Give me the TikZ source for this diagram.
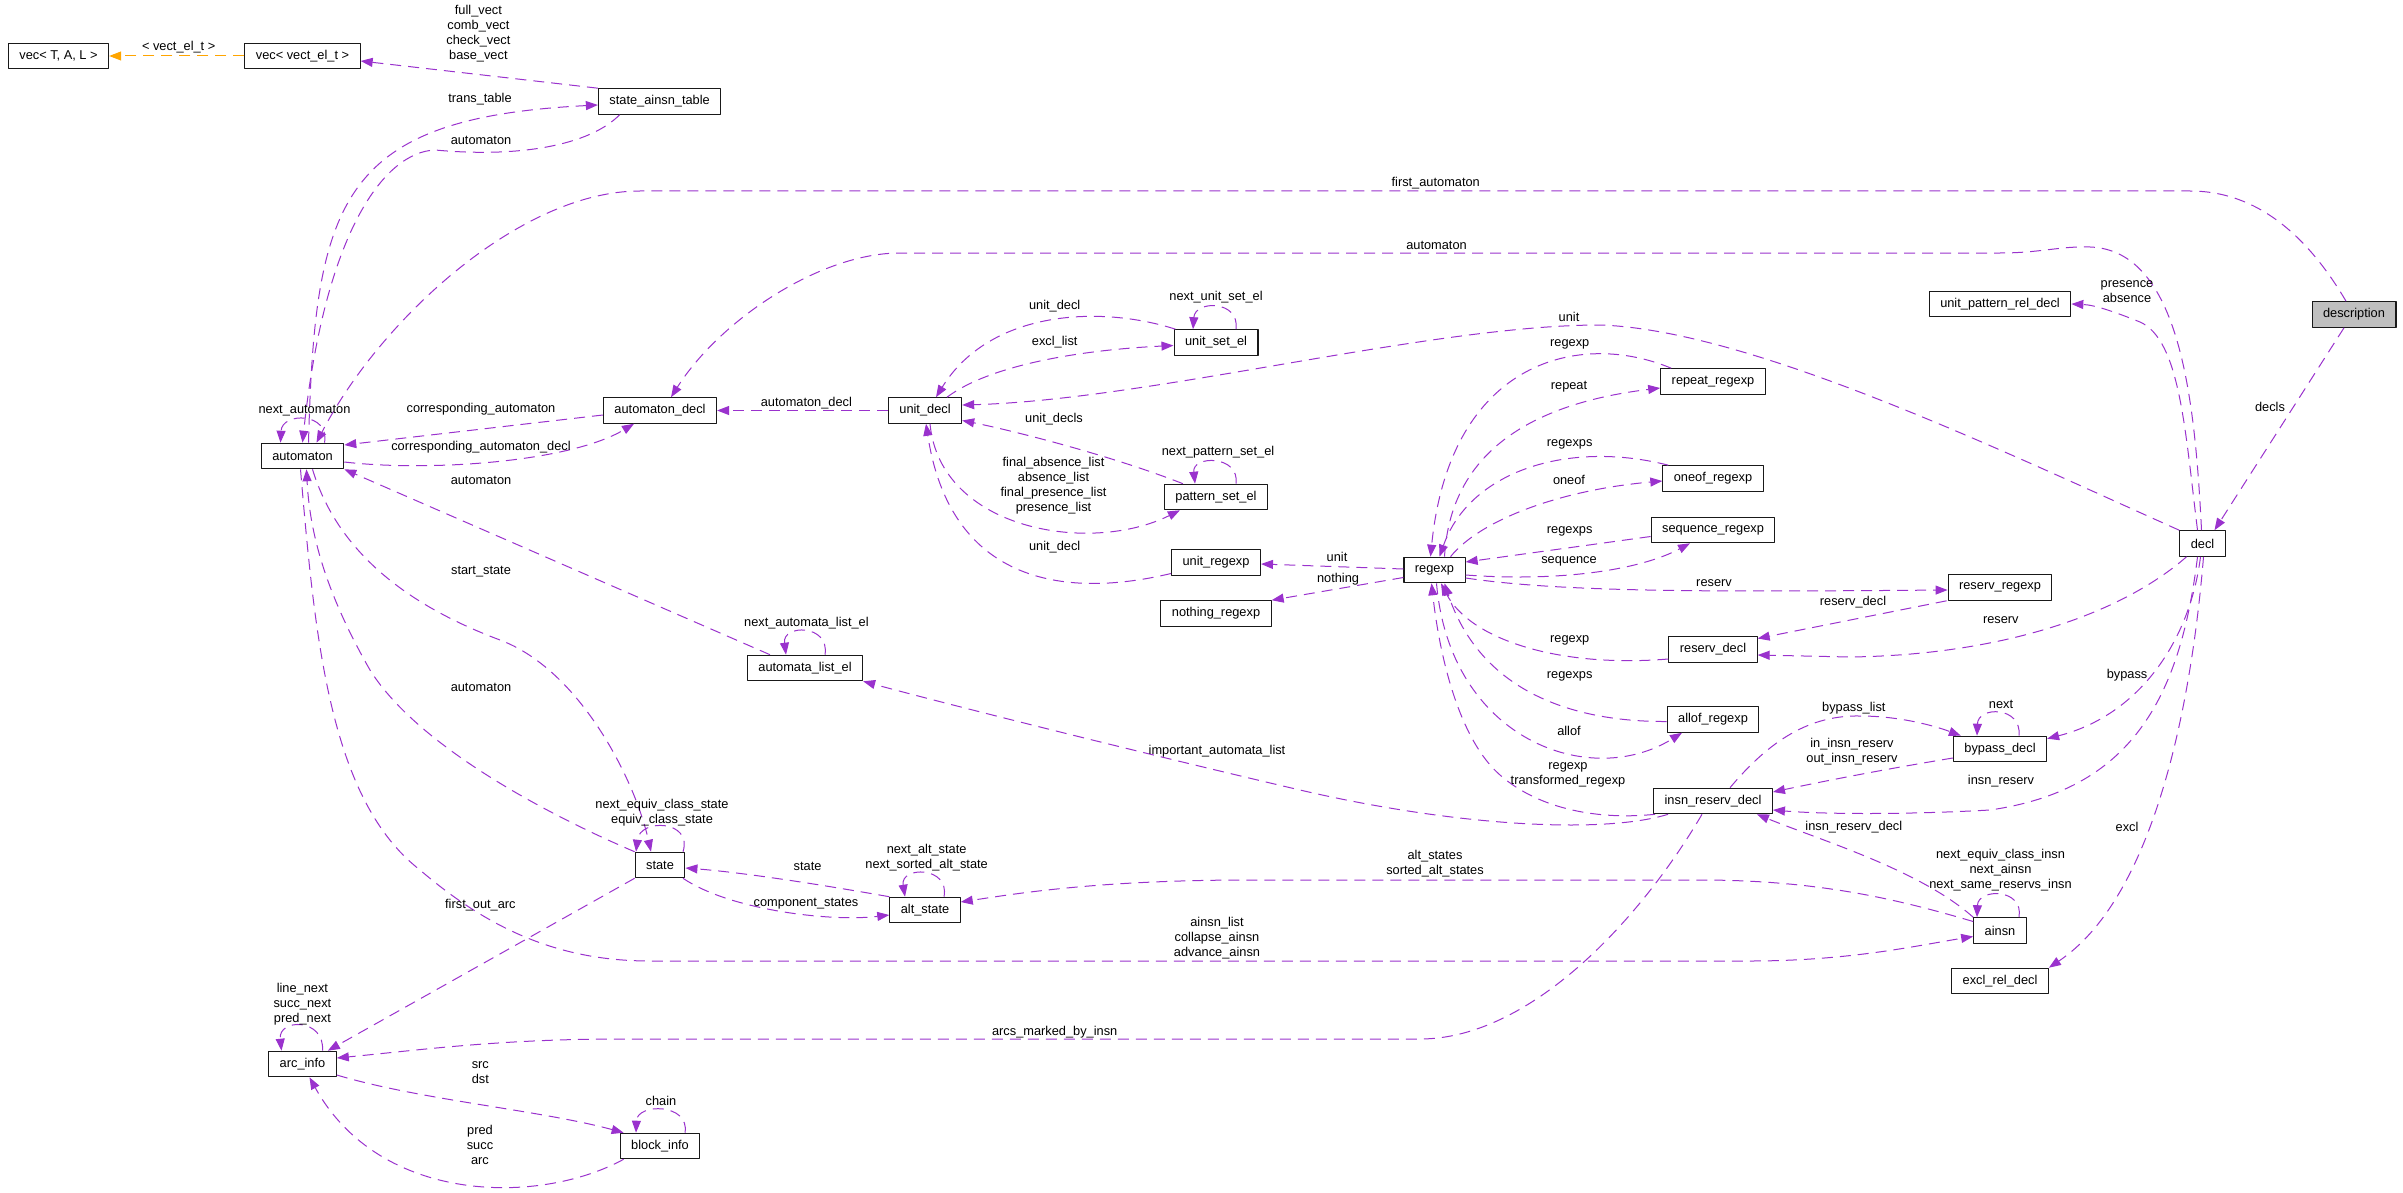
\documentclass[tikz,border=0pt]{standalone}
\usepackage{fontspec}
\setmainfont{Liberation Sans}
\usetikzlibrary{arrows.meta}
\definecolor{edgepurple}{HTML}{9A32CD}
\definecolor{tmplorange}{HTML}{FFA500}
\definecolor{rootgray}{HTML}{BFBFBF}
\tikzset{
    cls/.style={
        draw=black!90, line width=1.1pt, fill=white,
        inner xsep=11pt, inner ysep=0pt, minimum height=25.5pt,
        font=\fontsize{12.8}{15}\selectfont
    },
    lab/.style={
        font=\fontsize{12.8}{15}\selectfont, align=center, inner sep=0pt
    },
    uses/.style={
        draw=edgepurple, line width=1pt, dash pattern=on 11pt off 7pt,
        -{Triangle[length=12pt,width=9pt]}
    },
    tmpl/.style={uses, draw=tmplorange}
}

\begin{document}
\begin{tikzpicture}[x=1pt,y=-1pt,line join=round]
\useasboundingbox (0,0) rectangle (2403,1193);

% classes, one column per rank
\node[cls] (vectal) at (58.5,56) {vec< T, A, L >};
\node[cls] (vecvect) at (302.5,56) {vec< vect\_el\_t >};
\node[cls] (automaton) at (302.5,456) {automaton};
\node[cls] (arcinfo) at (302.5,1064) {arc\_info};
\node[cls] (sat) at (659.6,101.5) {state\_ainsn\_table};
\node[cls] (automatondecl) at (660,410.5) {automaton\_decl};
\node[cls] (state) at (660,865) {state};
\node[cls] (blockinfo) at (660,1146) {block\_info};
\node[cls] (automatalistel) at (805,668) {automata\_list\_el};
\node[cls] (unitdecl) at (925,410.5) {unit\_decl};
\node[cls] (altstate) at (925,910) {alt\_state};
\node[cls] (unitsetel) at (1216,342.5) {unit\_set\_el};
\node[cls] (patternsetel) at (1216,497) {pattern\_set\_el};
\node[cls] (unitregexp) at (1216,562.5) {unit\_regexp};
\node[cls] (nothingregexp) at (1216,613.5) {nothing\_regexp};
\node[cls] (regexp) at (1434.5,570) {regexp};
\node[cls] (repeatregexp) at (1713,381.5) {repeat\_regexp};
\node[cls] (oneofregexp) at (1713,478.5) {oneof\_regexp};
\node[cls] (sequenceregexp) at (1713,530) {sequence\_regexp};
\node[cls] (reservdecl) at (1713,649.5) {reserv\_decl};
\node[cls] (allofregexp) at (1713,719.5) {allof\_regexp};
\node[cls] (insnreservdecl) at (1713,801) {insn\_reserv\_decl};
\node[cls] (uprd) at (2000,304) {unit\_pattern\_rel\_decl};
\node[cls] (reservregexp) at (2000,587.5) {reserv\_regexp};
\node[cls] (bypassdecl) at (2000,749) {bypass\_decl};
\node[cls] (ainsn) at (2000,930.5) {ainsn};
\node[cls] (excl) at (2000,981) {excl\_rel\_decl};
\node[cls] (decl) at (2202.5,543.5) {decl};
\node[cls, fill=rootgray] (description) at (2354,314.5) {description};

% template instance
\draw[tmpl] (vecvect.west) -- (vectal.east);
\node[lab] (lb-vect) at (178.7,47) {< vect\_el\_t >};

% state_ainsn_table and automaton
\draw[uses] (sat.north west) -- ([yshift=-5]vecvect.east);
\node[lab] (lb-vects) at (478.4,33.7) {full\_vect\\comb\_vect\\check\_vect\\base\_vect};
\draw[uses] ([xshift=6]automaton.north) .. controls (315,200) and (340,118) .. ([yshift=-3.5]sat.west);
\node[lab] (lb-trans) at (480,99) {trans\_table};
\draw[uses] ([xshift=-40]sat.south) .. controls (590,145) and (520,158) .. (435,150)
    .. controls (385,152) and (325,230) .. (automaton.north);
\node[lab] (lb-aut1) at (481,140) {automaton};
\draw[uses] ([xshift=-8]description.north) .. controls (2310,240) and (2260,191) .. (2190,191)
    -- (640,191) .. controls (520,191) and (380,320) .. ([xshift=14]automaton.north);
\node[lab] (lb-first) at (1435.7,182.7) {first\_automaton};
\draw[uses] ([xshift=22]automaton.north) .. controls (330,412) and (282,412) .. ([xshift=-22]automaton.north);
\node[lab] (lb-nextaut) at (304.5,410.7) {next\_automaton};

% automaton_decl
\draw[uses] ([yshift=-4.5]automatondecl.west) -- ([yshift=11]automaton.east);
\node[lab] (lb-corr) at (481,409) {corresponding\_automaton};
\draw[uses] ([yshift=-6]automaton.east) .. controls (430,472) and (570,462) .. ([xshift=-26]automatondecl.south);
\node[lab] (lb-corrdecl) at (481,446.7) {corresponding\_automaton\_decl};
\draw[uses] (unitdecl.west) -- (automatondecl.east);
\node[lab] (lb-autdecl) at (806.4,402.7) {automaton\_decl};
\draw[uses] ([xshift=-1]decl.north) .. controls (2195,400) and (2180,250) .. (2090,247)
    .. controls (2060,246) and (2040,253) .. (2000,253) -- (900,253)
    .. controls (820,253) and (720,320) .. ([xshift=11]automatondecl.north);
\node[lab] (lb-aut4) at (1436.5,245) {automaton};

% automaton from below
\draw[uses] ([xshift=-35]automatalistel.north) -- (automaton.south east);
\node[lab] (lb-aut2) at (481,480.7) {automaton};
\draw[uses] ([xshift=10]automaton.south) .. controls (340,560) and (420,610) .. (500,640)
    .. controls (580,670) and (635,780) .. ([xshift=-9]state.north);
\node[lab] (lb-start) at (481,571.7) {start\_state};
\draw[uses] (state.north west) .. controls (560,820) and (420,750) .. (370,670)
    .. controls (330,600) and (310,540) .. ([xshift=4]automaton.south);
\node[lab] (lb-aut3) at (481,687.7) {automaton};
\draw[uses] ([xshift=-2]automaton.south) .. controls (315,640) and (330,800) .. (420,870)
    .. controls (490,930) and (560,961) .. (650,961) -- (1750,961)
    .. controls (1850,961) and (1920,945) .. ([yshift=-6]ainsn.west);
\node[lab] (lb-ainsnl) at (1217,938) {ainsn\_list\\collapse\_ainsn\\advance\_ainsn};
\draw[uses] ([xshift=20]automatalistel.north) .. controls (830,624) and (782,624) .. ([xshift=-19]automatalistel.north);
\node[lab] (lb-nal) at (806.4,622.7) {next\_automata\_list\_el};

% unit_decl
\draw[uses] (decl.north west) .. controls (2000,450) and (1750,330) .. (1600,325)
    .. controls (1430,325) and (1150,400) .. ([yshift=5.5]unitdecl.east);
\node[lab] (lb-unit1) at (1569,316.7) {unit};
\draw[uses] ([xshift=2]unitsetel.north west) .. controls (1100,305) and (990,310) .. ([xshift=11]unitdecl.north);
\node[lab] (lb-ud1) at (1054.7,306) {unit\_decl};
\draw[uses] ([xshift=22]unitdecl.north) .. controls (990,365) and (1080,350) .. ([yshift=-3]unitsetel.west);
\node[lab] (lb-excl) at (1054.7,342.3) {excl\_list};
\draw[uses] ([xshift=20]unitsetel.north) .. controls (1240,300) and (1195,300) .. ([xshift=-23]unitsetel.north);
\node[lab] (lb-nuse) at (1216,296.7) {next\_unit\_set\_el};
\draw[uses] ([xshift=19]patternsetel.north west) .. controls (1110,455) and (1010,430) .. ([yshift=-10]unitdecl.east);
\node[lab] (lb-uds) at (1054,419) {unit\_decls};
\draw[uses] ([xshift=5]unitdecl.south) .. controls (940,530) and (1090,555) .. ([xshift=16]patternsetel.south west);
\node[lab] (lb-lists) at (1053.5,485.5) {final\_absence\_list\\absence\_list\\final\_presence\_list\\presence\_list};
\draw[uses] ([xshift=20]patternsetel.north) .. controls (1240,455) and (1192,455) .. ([xshift=-21]patternsetel.north);
\node[lab] (lb-npse) at (1218,451.7) {next\_pattern\_set\_el};
\draw[uses] ([yshift=-11]unitregexp.west) .. controls (1060,600) and (950,580) .. ([xshift=1]unitdecl.south);
\node[lab] (lb-ud2) at (1054.7,546.7) {unit\_decl};

% regexp and its kinds
\draw[uses] ([xshift=11]repeatregexp.north west) .. controls (1580,330) and (1450,360) .. ([xshift=-4]regexp.north);
\node[lab] (lb-rx1) at (1569.7,344.3) {regexp};
\draw[uses] ([xshift=10]regexp.north) .. controls (1450,460) and (1520,405) .. ([yshift=-6.5]repeatregexp.west);
\node[lab] (lb-rep) at (1569,386.7) {repeat};
\draw[uses] ([xshift=6]oneofregexp.north west) .. controls (1570,440) and (1470,470) .. ([xshift=5]regexp.north);
\node[lab] (lb-rxs1) at (1569.7,444) {regexps};
\draw[uses] ([xshift=16]regexp.north) .. controls (1480,520) and (1560,490) .. ([yshift=-2.5]oneofregexp.west);
\node[lab] (lb-oneof) at (1569,480) {oneof};
\draw[uses] ([yshift=-6.5]sequenceregexp.west) -- ([yshift=8]regexp.east);
\node[lab] (lb-rxs2) at (1569.7,531) {regexps};
\draw[uses] ([yshift=-5]regexp.east) .. controls (1560,582) and (1640,570) .. ([xshift=-23]sequenceregexp.south);
\node[lab] (lb-seq) at (1569,561) {sequence};
\draw[uses] ([yshift=-8]regexp.east) .. controls (1560,592) and (1700,592) .. ([yshift=-2.5]reservregexp.west);
\node[lab] (lb-res1) at (1714,582.7) {reserv};
\draw[uses] ([yshift=1]regexp.west) -- ([yshift=-1.5]unitregexp.east);
\node[lab] (lb-unit2) at (1337,556.7) {unit};
\draw[uses] ([yshift=-7.5]regexp.west) -- (nothingregexp.north east);
\node[lab] (lb-noth) at (1338,579) {nothing};
\draw[uses] ([yshift=-9.5]reservdecl.west) .. controls (1560,668) and (1470,640) .. ([xshift=6.5]regexp.south);
\node[lab] (lb-rx2) at (1569.7,640) {regexp};
\draw[uses] ([yshift=-2]allofregexp.west) .. controls (1570,722) and (1480,690) .. ([xshift=10]regexp.south);
\node[lab] (lb-rxs3) at (1569.7,676) {regexps};
\draw[uses] ([xshift=2]regexp.south) .. controls (1450,740) and (1590,790) .. ([xshift=-31]allofregexp.south);
\node[lab] (lb-allof) at (1569,730.7) {allof};
\draw[uses] ([xshift=2]insnreservdecl.south west) .. controls (1600,820) and (1540,810) .. (1500,775)
    .. controls (1460,740) and (1440,660) .. ([xshift=-3]regexp.south);
\node[lab] (lb-trx) at (1568,775) {regexp\\transformed\_regexp};

% insn_reserv_decl
\draw[uses] ([xshift=15]insnreservdecl.south west) .. controls (1600,835) and (1450,825) .. (1300,790)
    .. controls (1150,755) and (950,705) .. (automatalistel.south east);
\node[lab] (lb-imp) at (1217,750.7) {important\_automata\_list};
\draw[uses] ([xshift=-11]insnreservdecl.south) .. controls (1640,920) and (1530,1039) .. (1420,1039)
    -- (620,1039) .. controls (500,1039) and (420,1050) .. ([yshift=6]arcinfo.east);
\node[lab] (lb-arcs) at (1054.7,1031.7) {arcs\_marked\_by\_insn};
\draw[uses] ([xshift=17]insnreservdecl.north) .. controls (1770,740) and (1810,715) .. (1860,716)
    .. controls (1900,716) and (1935,726) .. ([xshift=8]bypassdecl.north west);
\node[lab] (lb-bpl) at (1853.8,707.7) {bypass\_list};
\draw[uses] ([yshift=-9]bypassdecl.west) .. controls (1880,770) and (1820,782) .. ([yshift=9]insnreservdecl.east);
\node[lab] (lb-inout) at (1852,751.5) {in\_insn\_reserv\\out\_insn\_reserv};
\draw[uses] ([xshift=19]bypassdecl.north) .. controls (2022,706) and (1978,706) .. ([xshift=-23]bypassdecl.north);
\node[lab] (lb-next) at (2001,704) {next};

% decl and description
\draw[uses] ([xshift=-5]decl.north) .. controls (2185,430) and (2180,340) .. (2140,322)
    .. controls (2115,312) and (2095,305) .. (uprd.east);
\node[lab] (lb-pres) at (2127,291.5) {presence\\absence};
\draw[uses] ([xshift=-10]description.south) -- ([xshift=12]decl.north);
\node[lab] (lb-decls) at (2270,406.7) {decls};
\draw[uses] ([xshift=-2]decl.south) .. controls (2190,640) and (2140,715) .. ([yshift=-3]bypassdecl.north east);
\node[lab] (lb-byp) at (2127,675) {bypass};
\draw[uses] ([xshift=-5]decl.south) .. controls (2180,700) and (2130,790) .. (1990,810)
    .. controls (1900,815) and (1820,814) .. ([yshift=-9]insnreservdecl.east);
\node[lab] (lb-insnr) at (2001,780.7) {insn\_reserv};
\draw[uses] ([xshift=-16]decl.south) .. controls (2120,615) and (2000,655) .. (1850,657)
    -- ([yshift=-5.5]reservdecl.east);
\node[lab] (lb-res2) at (2000.8,620) {reserv};
\draw[uses] ([xshift=-1]reservregexp.south west) -- ([yshift=11]reservdecl.east);
\node[lab] (lb-rdecl) at (1853,602.3) {reserv\_decl};
\draw[uses] ([xshift=1]decl.south) .. controls (2190,720) and (2150,900) .. (excl.north east);
\node[lab] (lb-excl2) at (2127,826.7) {excl};

% ainsn
\draw[uses] (ainsn.north west) .. controls (1920,870) and (1820,840) .. ([xshift=-16]insnreservdecl.south east);
\node[lab] (lb-ird) at (1853.8,826.7) {insn\_reserv\_decl};
\draw[uses] ([xshift=19]ainsn.north) .. controls (2024,888) and (1978,888) .. ([xshift=-23]ainsn.north);
\node[lab] (lb-ainsn) at (2000.5,870.5) {next\_equiv\_class\_insn\\next\_ainsn\\next\_same\_reservs\_insn};
\draw[uses] ([yshift=9]ainsn.west) .. controls (1900,900) and (1820,880) .. (1700,880)
    -- (1250,880) .. controls (1100,880) and (1020,893) .. ([yshift=8]altstate.east);
\node[lab] (lb-alts) at (1435,864) {alt\_states\\sorted\_alt\_states};

% state and alt_state
\draw[uses] (altstate.north west) .. controls (840,888) and (750,873) .. ([yshift=-3]state.east);
\node[lab] (lb-state) at (807.6,866.7) {state};
\draw[uses] ([xshift=23]state.south) .. controls (730,910) and (830,922) .. ([yshift=-5]altstate.west);
\node[lab] (lb-comp) at (806,904) {component\_states};
\draw[uses] ([xshift=19]altstate.north) .. controls (950,866) and (900,866) .. ([xshift=-20]altstate.north);
\node[lab] (lb-alt) at (926.6,858) {next\_alt\_state\\next\_sorted\_alt\_state};
\draw[uses] ([xshift=23]state.north) .. controls (693,820) and (640,818) .. ([xshift=-24]state.north);
\node[lab] (lb-equiv) at (662,812.5) {next\_equiv\_class\_state\\equiv\_class\_state};

% arcs and blocks
\draw[uses] (state.south west) -- ([xshift=-9]arcinfo.north east);
\node[lab] (lb-foa) at (480.4,905) {first\_out\_arc};
\draw[uses] ([xshift=20]arcinfo.north) .. controls (325,1018) and (278,1018) .. ([xshift=-21]arcinfo.north);
\node[lab] (lb-arcl) at (302.4,1003.8) {line\_next\\succ\_next\\pred\_next};
\draw[uses] ([yshift=-11]arcinfo.east) .. controls (420,1100) and (540,1110) .. ([xshift=4]blockinfo.north west);
\node[lab] (lb-srcdst) at (480.3,1072.5) {src\\dst};
\draw[uses] ([xshift=4]blockinfo.south west) .. controls (540,1205) and (380,1205) .. ([xshift=7]arcinfo.south);
\node[lab] (lb-pred) at (480,1145) {pred\\succ\\arc};
\draw[uses] ([xshift=25]blockinfo.north) .. controls (690,1103) and (637,1103) .. ([xshift=-24]blockinfo.north);
\node[lab] (lb-chain) at (661,1101) {chain};

\end{tikzpicture}
\end{document}
